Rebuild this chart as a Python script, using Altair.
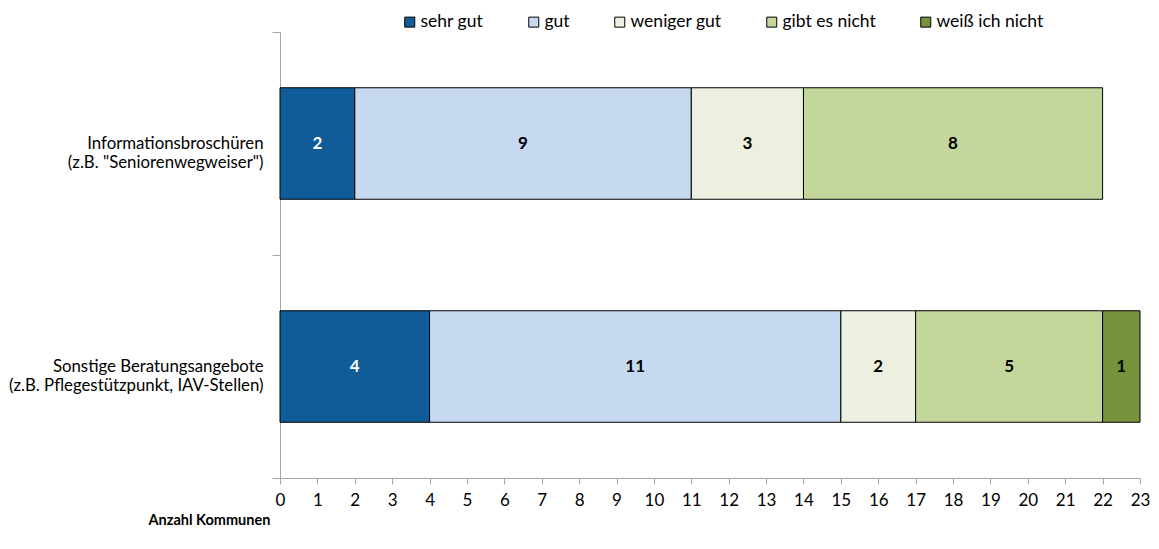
import altair as alt
import pandas as pd

categories = [
    'Informationsbroschüren (z.B. "Seniorenwegweiser")',
    'Sonstige Beratungsangebote (z.B. Pflegestützpunkt, IAV-Stellen)',
]
ratings = ["sehr gut", "gut", "weniger gut", "gibt es nicht", "weiß ich nicht"]
colors = ["#0f5c99", "#c6d9f1", "#ebf1de", "#c3d69b", "#77933c"]
values_info = [2, 9, 3, 8, 0]
values_sonst = [4, 11, 2, 5, 1]
x_ticks = list(range(0, 24))

rows = []
for cat, vals in zip(categories, [values_info, values_sonst]):
    for i, (r, v) in enumerate(zip(ratings, vals)):
        if v > 0:
            rows.append({"Kategorie": cat, "Bewertung": r, "Anzahl": v, "idx": i})
df = pd.DataFrame(rows)

FONT = "Lato"

base = alt.Chart(df)

x_scale = alt.Scale(domain=[0, 23], nice=False, zero=True, padding=0)
y_scale = alt.Scale(domain=categories, paddingInner=0, paddingOuter=0)

x_axis = alt.Axis(
    values=x_ticks,
    labelOverlap=False,
    labelFlush=False,
    title="Anzahl Kommunen",
    titleFont=FONT,
    titleFontSize=14.5,
    titleFontWeight="bold",
    titleAnchor="start",
    titleAlign="left",
    titleX=-132,
    titleY=46,
    titleBaseline="alphabetic",
    labelFont=FONT,
    labelFontSize=17,
    labelColor="#000000",
    tickSize=6,
    tickColor="#a6a6a6",
    domainColor="#a6a6a6",
    grid=False,
    labelPadding=8,
)

y_axis = alt.Axis(
    title=None,
    tickBand="extent",
    labelExpr="[substring(datum.label,0,indexof(datum.label,' (')), substring(datum.label,indexof(datum.label,' (')+1)]",
    labelFontSize=16.8,
    labelLineHeight=19,
    labelFont=FONT,
    labelColor="#000000",
    labelPadding=9,
    labelLimit=0,
    tickSize=8,
    tickColor="#a6a6a6",
    domainColor="#a6a6a6",
    labelAlign="right",
    labelBaseline="middle",
)

bars = base.mark_bar(
    height=alt.RelativeBandSize(0.5), stroke="#000000", strokeWidth=1
).encode(
    x=alt.X("Anzahl:Q", stack="zero", scale=x_scale, axis=x_axis),
    y=alt.Y("Kategorie:N", sort=categories, scale=y_scale, axis=y_axis),
    color=alt.Color(
        "Bewertung:N",
        scale=alt.Scale(domain=ratings, range=colors),
        legend=alt.Legend(
            title=None,
            orient="none",
            direction="horizontal",
            legendX=121,
            legendY=-19,
            symbolType="square",
            symbolSize=100,
            symbolStrokeColor="#000000",
            symbolStrokeWidth=1,
            symbolOpacity=1,
            labelFont=FONT,
            labelFontSize=17.5,
            labelColor="#000000",
            labelOffset=2,
            labelLimit=0,
            columnPadding=41,
        ),
    ),
    order=alt.Order("idx:Q"),
)

texts = base.transform_stack(
    stack="Anzahl",
    groupby=["Kategorie"],
    as_=["x0", "x1"],
    sort=[alt.SortField("idx")],
).transform_calculate(
    mid="(datum.x0 + datum.x1) / 2"
).mark_text(
    font=FONT, fontSize=17, fontWeight="bold"
).encode(
    x=alt.X("mid:Q", scale=x_scale, axis=x_axis),
    y=alt.Y("Kategorie:N", sort=categories, scale=y_scale, axis=y_axis),
    text=alt.Text("Anzahl:Q"),
    color=alt.condition(
        alt.datum.Bewertung == "sehr gut", alt.value("#ffffff"), alt.value("#000000")
    ),
)

chart = (
    alt.layer(bars, texts)
    .properties(
        width=860,
        height=446,
        autosize=alt.AutoSizeParams(type="none"),
        padding={"left": 272, "top": 24, "right": 10, "bottom": 60},
    )
    .configure_view(stroke=None)
)

chart.save("out.html", embed_options={"renderer": "svg", "actions": False})
